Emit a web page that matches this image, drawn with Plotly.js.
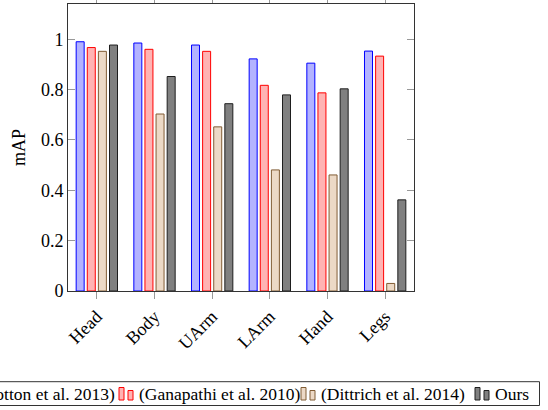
<!DOCTYPE html>
<html>
<head>
<meta charset="utf-8">
<script src="https://cdn.plot.ly/plotly-3.0.1.min.js"></script>
<style>
  html, body { margin: 0; padding: 0; background: #fff; }
  #chart { width: 548px; height: 410px; }
</style>
</head>
<body>
<div id="chart"></div>
<script>
// Body-part categories on the x axis
const parts = ['Head', 'Body', 'UArm', 'LArm', 'Hand', 'Legs'];

// mAP per method
const shotton   = [0.99, 0.985, 0.977, 0.922, 0.905, 0.953];
const ganapathi = [0.967, 0.96, 0.952, 0.817, 0.787, 0.933];
const dittrich  = [0.952, 0.703, 0.652, 0.481, 0.461, 0.03];
const ours      = [0.977, 0.852, 0.744, 0.779, 0.803, 0.362];

// Legend labels
const methodNames = ['(Shotton et al. 2013)', '(Ganapathi et al. 2010)', '(Dittrich et al. 2014)', 'Ours'];

const FONT = 'Liberation Serif';
const FS = 18;
const LEG_FS = 17.5;
const W = 548, H = 410;
const M = { l: 68, r: 134, t: 4, b: 119 };
const plotW = W - M.l - M.r, plotH = H - M.t - M.b;

// pixel -> paper helpers for the hand-drawn legend box
const px = x => (x - M.l) / plotW;
const py = y => (H - M.b - y) / plotH;

const styles = [
  { fill: 'rgb(179,179,255)', line: 'rgb(0,0,255)' },
  { fill: 'rgb(255,179,179)', line: 'rgb(255,0,0)' },
  { fill: 'rgb(236,217,198)', line: 'rgb(128,92,52)' },
  { fill: 'rgb(128,128,128)', line: 'rgb(30,30,30)' }
];
const series = [shotton, ganapathi, dittrich, ours];

const traces = series.map((vals, i) => ({
  type: 'bar',
  name: methodNames[i],
  x: parts,
  y: vals,
  marker: { color: styles[i].fill, line: { color: styles[i].line, width: 1 } },
  hoverinfo: 'x+y+name'
}));

// Legend: framed row of entries, each a two-bar swatch followed by its label
const shapes = [{
  type: 'rect', xref: 'paper', yref: 'paper',
  x0: px(-6), x1: px(539.5), y0: py(405.5), y1: py(381.7),
  line: { color: '#333', width: 1 }, fillcolor: 'rgba(0,0,0,0)'
}];
const annotations = [];
const swatchStart = [-40, 119, 301, 475];
const firstLabelEnd = 115.5;
swatchStart.forEach((b, i) => {
  [[b, b + 5, 387.5], [b + 9, b + 14, 390.5]].forEach(([a, c, top]) => {
    shapes.push({
      type: 'rect', xref: 'paper', yref: 'paper',
      x0: px(a), x1: px(c), y0: py(400), y1: py(top),
      fillcolor: styles[i].fill, line: { color: styles[i].line, width: 1 }
    });
  });
  annotations.push({
    xref: 'paper', yref: 'paper',
    x: i === 0 ? px(firstLabelEnd) : px(b + 19),
    xanchor: i === 0 ? 'right' : 'left',
    y: py(393.5), yanchor: 'middle',
    text: methodNames[i], showarrow: false,
    borderpad: 0,
    font: { family: FONT, size: LEG_FS, color: '#000' }
  });
});

const layout = {
  width: W, height: H,
  margin: M,
  paper_bgcolor: '#fff', plot_bgcolor: '#fff',
  font: { family: FONT, size: FS, color: '#000' },
  showlegend: false,
  barmode: 'group',
  bargap: 0.229,
  bargroupgap: 0.28,
  xaxis: {
    type: 'category',
    range: [-0.5, 5.5],
    showgrid: false, zeroline: false,
    showline: true, linecolor: '#333', linewidth: 1, mirror: 'ticks',
    ticks: 'outside', ticklen: 7, tickcolor: '#999', tickwidth: 1,
    tickangle: -45,
    tickfont: { family: FONT, size: FS, color: '#000' }
  },
  yaxis: {
    range: [0, 1.14],
    dtick: 0.2, tick0: 0,
    showgrid: false, zeroline: false,
    showline: true, linecolor: '#333', linewidth: 1, mirror: 'ticks',
    ticks: 'inside', ticklen: 7, tickcolor: '#999', tickwidth: 1,
    tickfont: { family: FONT, size: FS, color: '#000' },
    title: { text: 'mAP', font: { family: FONT, size: FS, color: '#000' }, standoff: 10 }
  },
  shapes: shapes,
  annotations: annotations
};

Plotly.newPlot('chart', traces, layout, { displayModeBar: false, staticPlot: true });
</script>
</body>
</html>
